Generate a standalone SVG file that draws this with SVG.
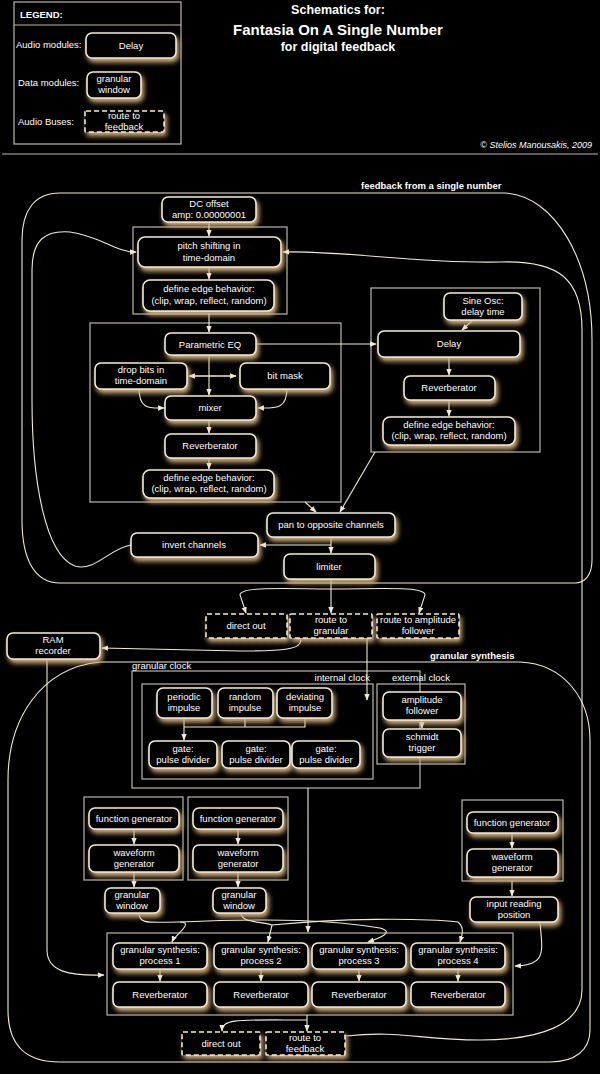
<svg xmlns="http://www.w3.org/2000/svg" width="600" height="1074" viewBox="0 0 600 1074">
<defs>
<filter id="glow" x="-20%" y="-30%" width="140%" height="180%">
<feDropShadow dx="2" dy="3.5" stdDeviation="2.6" flood-color="#d8b380" flood-opacity="1"/>
</filter>
<marker id="ar" viewBox="0 0 10 10" refX="9" refY="5" markerWidth="6" markerHeight="6" orient="auto"><path d="M0,1 L10,5 L0,9 z" fill="#f2ead8"/></marker>
<style>
.n{fill:#000;stroke:#f2ead8;stroke-width:1.6;filter:url(#glow)}
.d{fill:#000;stroke:#f2ead8;stroke-width:1.6;stroke-dasharray:5 3;filter:url(#glow)}
.b{fill:none;stroke:#bdb6aa;stroke-width:1.2}
.t{font-family:"Liberation Sans",Arial,sans-serif;font-size:9.5px;fill:#fff;text-anchor:middle}
.l{font-family:"Liberation Sans",Arial,sans-serif;font-size:9.5px;fill:#fff}
.lb{font-family:"Liberation Sans",Arial,sans-serif;font-size:9.5px;font-weight:bold;fill:#fff}
.c{fill:none;stroke:#f2ead8;stroke-width:1.1;marker-end:url(#ar)}
.r{fill:none;stroke:#f2ead8;stroke-width:1.1}
</style>
</defs>
<rect width="600" height="1074" fill="#000"/>
<g id="legend">
<rect x="14" y="2" width="167" height="142" class="b"/>
<line x1="14" y1="25" x2="181" y2="25" class="b"/>
<text x="20" y="18" class="lb">LEGEND:</text>
<text x="16" y="48" class="l">Audio modules:</text>
<rect x="86" y="33" width="90" height="25" rx="6" class="n"/><text x="131" y="49" class="t">Delay</text>
<text x="18" y="86" class="l">Data modules:</text>
<rect x="87" y="72" width="54" height="26" rx="6" class="n"/><text x="114" y="82" class="t">granular</text><text x="114" y="93" class="t">window</text>
<text x="18" y="125" class="l">Audio Buses:</text>
<rect x="85" y="111" width="79" height="21" rx="1" class="d"/><text x="124" y="119" class="t">route to</text><text x="124" y="130" class="t">feedback</text>
</g>
<g id="title">
<text x="338" y="14" class="t" style="font-weight:bold;font-size:12.5px">Schematics for:</text>
<text x="338" y="35" class="t" style="font-weight:bold;font-size:15px">Fantasia On A Single Number</text>
<text x="338" y="51" class="t" style="font-weight:bold;font-size:12.5px">for digital feedback</text>
<text x="592" y="148" class="l" style="text-anchor:end;font-style:italic;font-size:9px">© Stelios Manousakis, 2009</text>
<line x1="2" y1="154" x2="598" y2="154" stroke="#bdb6aa" stroke-width="1.2"/>
</g>
<g id="regions">
<path d="M60,193 L505,193 C555,196 592,260 592,340 L592,560 C592,575 585,583 575,583 L60,583 C35,583 22,560 22,520 L22,240 C22,210 35,193 60,193 Z" class="r"/>
<text x="361" y="189" class="lb">feedback from a single number</text>
<path d="M100,662 L520,662 C565,664 590,700 590,740 L590,1030 C590,1050 575,1062 550,1062 L60,1062 C25,1062 8,1045 8,1010 L8,780 C8,720 40,668 100,662" class="r"/>
<text x="430" y="659" class="lb">granular synthesis</text>
<rect x="133" y="227" width="154" height="87" class="b"/>
<rect x="90" y="323" width="251" height="179" class="b"/>
<rect x="371" y="288" width="169" height="164" class="b"/>
<rect x="132" y="671" width="288" height="117" class="b"/>
<text x="132" y="669" class="l">granular clock</text>
<rect x="142" y="684" width="231" height="95" class="b"/>
<text x="370" y="681" class="l" style="text-anchor:end">internal clock</text>
<rect x="377" y="684" width="88" height="80" class="b"/>
<text x="421" y="681" class="t">external clock</text>
<rect x="84" y="797" width="99" height="83" class="b"/>
<rect x="188" y="797" width="100" height="83" class="b"/>
<rect x="462" y="800" width="101" height="81" class="b"/>
<rect x="107" y="933" width="406" height="82" class="b"/>
</g>
<g id="connectors">
<path d="M209,222 L209,236" class="c"/>
<path d="M209,267 L209,279" class="c"/>
<path d="M209,313 L209,332" class="c"/>
<path d="M131,545 C110,548 95,572 75,566 C45,555 32,480 32,400 L32,270 C32,240 45,230 70,232 C100,236 115,252 136,252" class="c"/>
<path d="M346,1036 C400,1030 420,1040 480,1040 C540,1040 582,1025 582,990 L582,330 C582,280 560,260 500,262 C420,264 340,250 283,252" class="c"/>
<path d="M257,344 L376,344" class="c"/>
<path d="M209,355 L209,395" class="c"/>
<path d="M192,376 L236,376" class="c"/>
<path d="M236,376 L189,376" class="c"/>
<path d="M139,388 C139,410 150,408 164,408" class="c"/>
<path d="M287,388 C287,410 275,408 258,408" class="c"/>
<path d="M209,420 L209,433" class="c"/>
<path d="M209,458 L209,469" class="c"/>
<path d="M473,320 L462,330" class="c"/>
<path d="M449,357 L449,375" class="c"/>
<path d="M449,400 L449,416" class="c"/>
<path d="M305,502 L316,512" class="c"/>
<path d="M375,452 L340,512" class="c"/>
<path d="M331,537 L331,553" class="c"/>
<path d="M331,545 L260,545" class="c"/>
<path d="M331,579 L331,613" class="c"/>
<path d="M331,589 C290,589 240,586 240,595 L246,613" class="c"/>
<path d="M331,589 C380,589 425,586 425,595 L419,613" class="c"/>
<path d="M300,638 C305,650 280,651 240,651 L102,648" class="c"/>
<path d="M367,638 L367,700" class="c"/>
<path d="M47,659 L47,950 C47,972 70,976 104,975" class="c"/>
<path d="M184,718 L184,740" class="c"/>
<path d="M184,727 L305,727 L305,718 M245,718 L245,727" class="r"/>
<path d="M422,720 L422,728" class="c"/>
<path d="M308,788 L308,932" class="c"/>
<path d="M134,829 L134,844" class="c"/>
<path d="M134,872 L134,887" class="c"/>
<path d="M238,829 L238,844" class="c"/>
<path d="M238,872 L238,887" class="c"/>
<path d="M512,833 L512,848" class="c"/>
<path d="M512,881 L512,896" class="c"/>
<path d="M139,913 C139,925 150,922 180,922 C195,922 175,935 172,942" class="c"/>
<path d="M241,913 C241,923 260,921 272,925 L268,942" class="c"/>
<path d="M180,922 C280,918 330,920 380,928 C395,932 380,938 368,942" class="c"/>
<path d="M272,925 C340,918 420,918 458,922 C465,928 462,935 460,942" class="c"/>
<path d="M540,922 C542,950 548,965 515,966" class="c"/>
<path d="M160,969 L160,981" class="c"/>
<path d="M261,969 L261,981" class="c"/>
<path d="M359,969 L359,981" class="c"/>
<path d="M458,969 L458,981" class="c"/>
<path d="M307,1015 L307,1031" class="c"/>
<path d="M307,1020 C240,1020 222,1018 222,1031" class="c"/>
</g>
<g id="n-dc"><rect x="162" y="197" width="94" height="25" rx="6" class="n"/><text x="209" y="207" class="t">DC offset</text><text x="209" y="218" class="t">amp: 0.00000001</text></g>
<g id="n-pitch"><rect x="138" y="237" width="143" height="30" rx="7" class="n"/><text x="209" y="249" class="t">pitch shifting in</text><text x="209" y="261" class="t">time-domain</text></g>
<g id="n-edge1"><rect x="143" y="280" width="131" height="31" rx="7" class="n"/><text x="209" y="292" class="t">define edge behavior:</text><text x="209" y="304" class="t">(clip, wrap, reflect, random)</text></g>
<g id="n-eq"><rect x="165" y="333" width="91" height="22" rx="6" class="n"/><text x="210" y="348" class="t">Parametric EQ</text></g>
<g id="n-drop"><rect x="95" y="363" width="92" height="26" rx="6" class="n"/><text x="141" y="373" class="t">drop bits in</text><text x="141" y="384" class="t">time-domain</text></g>
<g id="n-mask"><rect x="240" y="363" width="90" height="26" rx="6" class="n"/><text x="285" y="379" class="t">bit mask</text></g>
<g id="n-mixer"><rect x="165" y="396" width="91" height="24" rx="6" class="n"/><text x="210" y="411" class="t">mixer</text></g>
<g id="n-rev1"><rect x="165" y="434" width="91" height="24" rx="6" class="n"/><text x="210" y="449" class="t">Reverberator</text></g>
<g id="n-edge2"><rect x="143" y="470" width="131" height="28" rx="7" class="n"/><text x="209" y="481" class="t">define edge behavior:</text><text x="209" y="492" class="t">(clip, wrap, reflect, random)</text></g>
<g id="n-sine"><rect x="444" y="293" width="78" height="27" rx="6" class="n"/><text x="483" y="304" class="t">Sine Osc:</text><text x="483" y="315" class="t">delay time</text></g>
<g id="n-delay"><rect x="378" y="331" width="142" height="26" rx="6" class="n"/><text x="449" y="347" class="t">Delay</text></g>
<g id="n-rev2"><rect x="404" y="376" width="91" height="24" rx="6" class="n"/><text x="449" y="391" class="t">Reverberator</text></g>
<g id="n-edge3"><rect x="383" y="417" width="132" height="28" rx="7" class="n"/><text x="449" y="428" class="t">define edge behavior:</text><text x="449" y="439" class="t">(clip, wrap, reflect, random)</text></g>
<g id="n-pan"><rect x="267" y="513" width="128" height="24" rx="6" class="n"/><text x="331" y="528" class="t">pan to opposite channels</text></g>
<g id="n-invert"><rect x="131" y="533" width="127" height="24" rx="6" class="n"/><text x="194" y="548" class="t">invert channels</text></g>
<g id="n-limiter"><rect x="284" y="554" width="91" height="25" rx="6" class="n"/><text x="329" y="570" class="t">limiter</text></g>
<g id="n-direct1"><rect x="206" y="614" width="81" height="24" rx="1" class="d"/><text x="246" y="629" class="t">direct out</text></g>
<g id="n-togran"><rect x="290" y="614" width="82" height="24" rx="1" class="d"/><text x="331" y="623" class="t">route to</text><text x="331" y="634" class="t">granular</text></g>
<g id="n-toamp"><rect x="377" y="614" width="82" height="24" rx="1" class="d"/><text x="418" y="623" class="t">route to amplitude</text><text x="418" y="634" class="t">follower</text></g>
<g id="n-ram"><rect x="7" y="633" width="93" height="26" rx="6" class="n"/><text x="53" y="643" class="t">RAM</text><text x="53" y="654" class="t">recorder</text></g>
<g id="n-per"><rect x="157" y="688" width="55" height="30" rx="6" class="n"/><text x="184" y="700" class="t">periodic</text><text x="184" y="711" class="t">impulse</text></g>
<g id="n-rnd"><rect x="218" y="688" width="55" height="30" rx="6" class="n"/><text x="245" y="700" class="t">random</text><text x="245" y="711" class="t">impulse</text></g>
<g id="n-dev"><rect x="277" y="688" width="55" height="30" rx="6" class="n"/><text x="305" y="700" class="t">deviating</text><text x="305" y="711" class="t">impulse</text></g>
<g id="n-g1"><rect x="149" y="741" width="68" height="27" rx="6" class="n"/><text x="183" y="752" class="t">gate:</text><text x="183" y="763" class="t">pulse divider</text></g>
<g id="n-g2"><rect x="222" y="741" width="68" height="27" rx="6" class="n"/><text x="256" y="752" class="t">gate:</text><text x="256" y="763" class="t">pulse divider</text></g>
<g id="n-g3"><rect x="292" y="741" width="68" height="27" rx="6" class="n"/><text x="326" y="752" class="t">gate:</text><text x="326" y="763" class="t">pulse divider</text></g>
<g id="n-ampf"><rect x="383" y="692" width="78" height="28" rx="6" class="n"/><text x="422" y="703" class="t">amplitude</text><text x="422" y="714" class="t">follower</text></g>
<g id="n-schmidt"><rect x="383" y="729" width="78" height="28" rx="6" class="n"/><text x="422" y="740" class="t">schmidt</text><text x="422" y="751" class="t">trigger</text></g>
<g id="n-fg1"><rect x="89" y="808" width="90" height="21" rx="6" class="n"/><text x="134" y="822" class="t">function generator</text></g>
<g id="n-wg1"><rect x="89" y="845" width="90" height="27" rx="6" class="n"/><text x="134" y="856" class="t">waveform</text><text x="134" y="867" class="t">generator</text></g>
<g id="n-fg2"><rect x="193" y="808" width="90" height="21" rx="6" class="n"/><text x="238" y="822" class="t">function generator</text></g>
<g id="n-wg2"><rect x="193" y="845" width="90" height="27" rx="6" class="n"/><text x="238" y="856" class="t">waveform</text><text x="238" y="867" class="t">generator</text></g>
<g id="n-fg3"><rect x="467" y="812" width="91" height="21" rx="6" class="n"/><text x="512" y="826" class="t">function generator</text></g>
<g id="n-wg3"><rect x="467" y="849" width="91" height="28" rx="6" class="n"/><text x="512" y="860" class="t">waveform</text><text x="512" y="871" class="t">generator</text></g>
<g id="n-gw1"><rect x="105" y="888" width="55" height="25" rx="6" class="n"/><text x="132" y="898" class="t">granular</text><text x="132" y="909" class="t">window</text></g>
<g id="n-gw2"><rect x="213" y="888" width="53" height="25" rx="6" class="n"/><text x="239" y="898" class="t">granular</text><text x="239" y="909" class="t">window</text></g>
<g id="n-irp"><rect x="470" y="897" width="88" height="25" rx="6" class="n"/><text x="514" y="907" class="t">input reading</text><text x="514" y="918" class="t">position</text></g>
<g id="n-p1"><rect x="113" y="943" width="94" height="26" rx="6" class="n"/><text x="160" y="953" class="t">granular synthesis:</text><text x="160" y="964" class="t">process 1</text></g>
<g id="n-p2"><rect x="214" y="943" width="94" height="26" rx="6" class="n"/><text x="261" y="953" class="t">granular synthesis:</text><text x="261" y="964" class="t">process 2</text></g>
<g id="n-p3"><rect x="312" y="943" width="94" height="26" rx="6" class="n"/><text x="359" y="953" class="t">granular synthesis:</text><text x="359" y="964" class="t">process 3</text></g>
<g id="n-p4"><rect x="411" y="943" width="94" height="26" rx="6" class="n"/><text x="458" y="953" class="t">granular synthesis:</text><text x="458" y="964" class="t">process 4</text></g>
<g id="n-r1"><rect x="113" y="982" width="94" height="25" rx="6" class="n"/><text x="160" y="998" class="t">Reverberator</text></g>
<g id="n-r2"><rect x="214" y="982" width="94" height="25" rx="6" class="n"/><text x="261" y="998" class="t">Reverberator</text></g>
<g id="n-r3"><rect x="312" y="982" width="94" height="25" rx="6" class="n"/><text x="359" y="998" class="t">Reverberator</text></g>
<g id="n-r4"><rect x="411" y="982" width="94" height="25" rx="6" class="n"/><text x="458" y="998" class="t">Reverberator</text></g>
<g id="n-direct2"><rect x="182" y="1032" width="78" height="23" rx="1" class="d"/><text x="221" y="1047" class="t">direct out</text></g>
<g id="n-tofb"><rect x="266" y="1032" width="79" height="23" rx="1" class="d"/><text x="305" y="1041" class="t">route to</text><text x="305" y="1052" class="t">feedback</text></g>
</svg>
